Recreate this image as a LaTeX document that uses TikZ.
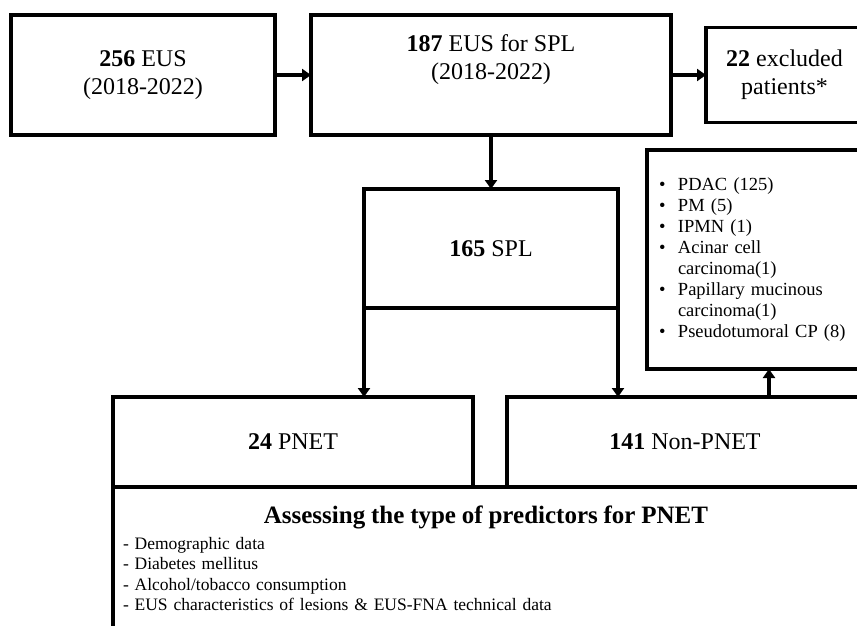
\documentclass[tikz,border=0pt]{standalone}
\usepackage{fontspec}
\setmainfont{Liberation Serif}
\usetikzlibrary{arrows.meta,positioning}
\newcommand{\bulletitem}{\makebox[19pt][l]{\textbullet}}

\begin{document}
\begin{tikzpicture}[
    x=1pt, y=-1pt,
    node distance=36pt,
    stagebox/.style={draw, line width=3.5pt, outer sep=0pt, inner sep=4pt, align=center, font=\fontsize{24}{28}\selectfont},
    listbox/.style={draw, line width=3.5pt, outer sep=0pt, align=left},
    link/.style={-{Triangle[length=9pt,width=12pt]}, line width=4pt}
]
    \useasboundingbox[fill=white] (0,0) rectangle (857,625);

    \node[stagebox, minimum width=264pt, minimum height=120pt] (eus) at (143,75) {\textbf{256} EUS\\(2018-2022)};
    \node[stagebox, minimum width=360pt, minimum height=120pt, right=36pt of eus] (sel) {\textbf{187} EUS for SPL\\(2018-2022)\\[7pt]\mbox{}};
    \node[stagebox, minimum width=157pt, minimum height=95pt, right=35pt of sel] (excl) {\textbf{22} excluded\\patients*};
    \node[stagebox, minimum width=254pt, minimum height=119pt, below=54pt of sel] (spl) {\textbf{165} SPL};
    \node[stagebox, minimum width=360pt, minimum height=90pt, anchor=north west] (pnet) at (113,397) {\textbf{24} PNET};
    \node[stagebox, minimum width=356pt, minimum height=90pt, right=34pt of pnet] (nonpnet) {\textbf{141} Non-PNET};

    \node[listbox, anchor=north west, minimum width=216pt, minimum height=219pt, text width=192pt, inner xsep=12pt, font=\fontsize{18.5}{21}\selectfont] (exclist) at (647,150) {%
        \bulletitem PDAC (125)\\
        \bulletitem PM (5)\\
        \bulletitem IPMN (1)\\
        \bulletitem Acinar cell\\
        \hspace*{19pt}carcinoma(1)\\
        \bulletitem Papillary mucinous\\
        \hspace*{19pt}carcinoma(1)\\
        \bulletitem Pseudotumoral CP (8)};

    \node[listbox, anchor=north west, minimum width=746pt, text width=726pt, inner xsep=10pt, inner ysep=19pt, font=\fontsize{17.5}{20.5}\selectfont] (pred) at (pnet.south west) {%
        {\centering\fontsize{25}{29}\selectfont\bfseries Assessing the type of predictors for PNET\par}\vspace{5pt}
        - Demographic data\\
        - Diabetes mellitus\\
        - Alcohol/tobacco consumption\\
        - EUS characteristics of lesions \& EUS-FNA technical data};

    \draw[link] (eus) -- (sel);
    \draw[link] (sel.east) -- (sel.east -| excl.west);
    \draw[link] (sel) -- (spl);
    \draw[link] (spl.south west) -- (spl.south west |- pnet.north);
    \draw[link] (spl.south east) -- (spl.south east |- nonpnet.north);
    \coordinate (up) at (769,397);
    \draw[link] (up) -- (up |- exclist.south);
\end{tikzpicture}
\end{document}
